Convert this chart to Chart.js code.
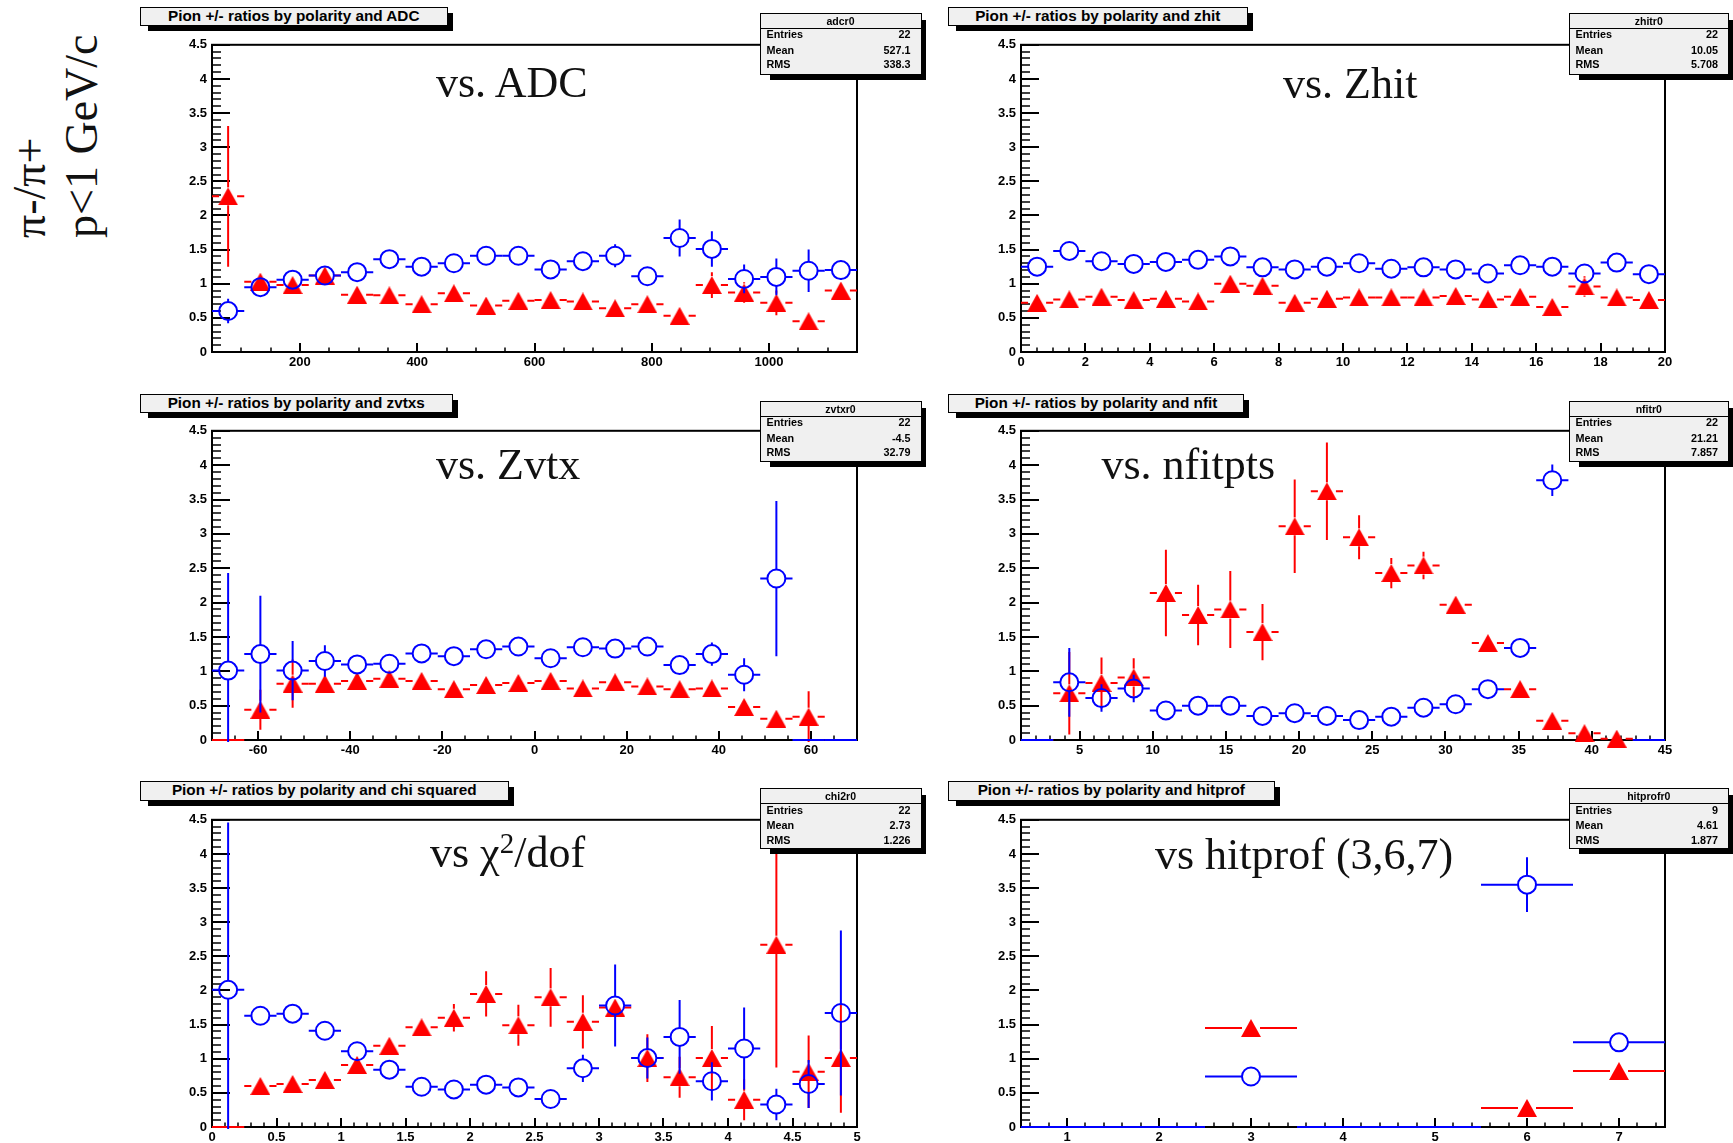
<!DOCTYPE html>
<html>
<head>
<meta charset="utf-8">
<script src="https://cdn.jsdelivr.net/npm/chart.js@4.4.0/dist/chart.umd.min.js"></script>
<style>
  body { margin: 0; background: #fff; }
  #page { position: relative; width: 1733px; height: 1143px; overflow: hidden; font-family: "Liberation Sans", Arial, sans-serif; }
  #page canvas { position: absolute; }
  .shadow { position: absolute; background: #000; }
  .titlebox { position: absolute; box-sizing: border-box; background: #f0f0f0; border: 1.5px solid #000;
              font-weight: bold; font-size: 15.3px; text-align: center; white-space: nowrap; color: #000; }
  .stats { position: absolute; box-sizing: border-box; background: #f0f0f0; border: 1.5px solid #000;
           font-weight: bold; font-size: 10.8px; color: #000; }
  .stats .head { position: absolute; left: 0; right: 0; top: 0; height: 14px; line-height: 14px;
                 border-bottom: 1.5px solid #000; text-align: center; font-size: 10.5px; }
  .stats .row { position: absolute; left: 6px; right: 10px; height: 13px; line-height: 13px; }
  .stats .row .v { float: right; }
  .vs { position: absolute; font-family: "Liberation Serif", "Times New Roman", serif; font-size: 44px;
        line-height: 44px; color: #111; white-space: nowrap; }
  .vs .sup { font-size: 29px; position: relative; top: -14px; }
  .ylab { position: absolute; font-family: "Liberation Serif", "Times New Roman", serif; font-size: 46px;
          line-height: 46px; white-space: nowrap; color: #111; transform-origin: 0 0; transform: rotate(-90deg); }
</style>
</head>
<body>
<div id="page">
  <div class="ylab" style="left:7px; top:238px">π-/π+</div>
  <div class="ylab" style="left:59px; top:238px">p&lt;1 GeV/c</div>
</div>
<script>
// y axis is the same on every pad
const yTicks = [0, 0.5, 1, 1.5, 2, 2.5, 3, 3.5, 4, 4.5];

// ---- ADC ----
const adcX = [77.5, 132.5, 187.5, 242.5, 297.5, 352.5, 407.5, 462.5, 517.5, 572.5, 627.5, 682.5, 737.5, 792.5, 847.5, 902.5, 957.5, 1012.5, 1067.5, 1122.5];
const adcRed = [2.28, 1.03, 0.98, 1.12, 0.84, 0.83, 0.70, 0.86, 0.68, 0.75, 0.76, 0.74, 0.64, 0.70, 0.53, 0.98, 0.87, 0.72, 0.45, 0.90];
const adcRedErr = [1.03, 0.08, 0.08, 0.08, 0.08, 0.08, 0.08, 0.08, 0.08, 0.08, 0.08, 0.08, 0.08, 0.09, 0.10, 0.19, 0.15, 0.18, 0.12, 0.10];
const adcBlue = [0.60, 0.95, 1.06, 1.12, 1.17, 1.36, 1.25, 1.30, 1.41, 1.41, 1.21, 1.33, 1.41, 1.11, 1.67, 1.51, 1.07, 1.10, 1.19, 1.20];
const adcBlueErr = [0.18, 0.08, 0.08, 0.08, 0.08, 0.09, 0.09, 0.10, 0.10, 0.10, 0.10, 0.11, 0.17, 0.12, 0.27, 0.26, 0.21, 0.27, 0.31, 0.14];
const adcTicks = [200, 400, 600, 800, 1000];

// ---- Zhit ----
const zhitX = [0.5, 1.5, 2.5, 3.5, 4.5, 5.5, 6.5, 7.5, 8.5, 9.5, 10.5, 11.5, 12.5, 13.5, 14.5, 15.5, 16.5, 17.5, 18.5, 19.5];
const zhitRed = [0.72, 0.77, 0.81, 0.76, 0.78, 0.74, 1.00, 0.97, 0.72, 0.78, 0.80, 0.80, 0.80, 0.82, 0.77, 0.81, 0.66, 0.96, 0.80, 0.76];
const zhitRedErr = [0.07, 0.07, 0.07, 0.07, 0.07, 0.07, 0.08, 0.08, 0.07, 0.07, 0.07, 0.07, 0.07, 0.07, 0.07, 0.07, 0.07, 0.15, 0.07, 0.07];
const zhitBlue = [1.25, 1.48, 1.33, 1.29, 1.32, 1.35, 1.40, 1.24, 1.21, 1.25, 1.30, 1.22, 1.24, 1.21, 1.15, 1.27, 1.25, 1.15, 1.31, 1.14];
const zhitBlueErr = [0.08, 0.08, 0.08, 0.08, 0.08, 0.08, 0.08, 0.08, 0.08, 0.08, 0.08, 0.08, 0.08, 0.08, 0.08, 0.08, 0.08, 0.08, 0.08, 0.08];
const zhitTicks = [0, 2, 4, 6, 8, 10, 12, 14, 16, 18, 20];

// ---- Zvtx ----
const zvtxX = [-66.5, -59.5, -52.5, -45.5, -38.5, -31.5, -24.5, -17.5, -10.5, -3.5, 3.5, 10.5, 17.5, 24.5, 31.5, 38.5, 45.5, 52.5, 59.5, 66.5];
const zvtxRed = [0, 0.44, 0.82, 0.82, 0.86, 0.89, 0.86, 0.74, 0.80, 0.83, 0.86, 0.75, 0.84, 0.78, 0.74, 0.75, 0.48, 0.31, 0.34, 0];
const zvtxRedErr = [0, 0.29, 0.35, 0.10, 0.10, 0.08, 0.08, 0.08, 0.08, 0.08, 0.08, 0.08, 0.08, 0.08, 0.08, 0.08, 0.10, 0.13, 0.37, 0];
const zvtxBlue = [1.01, 1.25, 1.01, 1.15, 1.10, 1.11, 1.26, 1.22, 1.32, 1.36, 1.19, 1.35, 1.33, 1.36, 1.09, 1.25, 0.95, 2.35, 0, 0];
const zvtxBlueErr = [1.42, 0.85, 0.43, 0.23, 0.12, 0.10, 0.10, 0.10, 0.10, 0.10, 0.10, 0.10, 0.10, 0.10, 0.10, 0.17, 0.24, 1.13, 0, 0];
const zvtxTicks = [-60, -40, -20, 0, 20, 40, 60];

// ---- nfit ----
const nfitX = [2.1, 4.3, 6.5, 8.7, 10.9, 13.1, 15.3, 17.5, 19.7, 21.9, 24.1, 26.3, 28.5, 30.7, 32.9, 35.1, 37.3, 39.5, 41.7, 43.9];
const nfitRed = [0, 0.68, 0.83, 0.91, 2.14, 1.82, 1.90, 1.57, 3.11, 3.62, 2.95, 2.43, 2.54, 1.97, 1.41, 0.74, 0.28, 0.10, 0.02, 0];
const nfitRedErr = [0, 0.60, 0.37, 0.28, 0.63, 0.44, 0.56, 0.41, 0.68, 0.71, 0.32, 0.22, 0.20, 0.08, 0.08, 0.08, 0.08, 0.08, 0.08, 0];
const nfitBlue = [0, 0.84, 0.61, 0.75, 0.43, 0.50, 0.50, 0.35, 0.39, 0.35, 0.29, 0.34, 0.47, 0.52, 0.74, 1.34, 3.78, null, null, 0];
const nfitBlueErr = [0, 0.50, 0.20, 0.20, 0.08, 0.08, 0.08, 0.08, 0.08, 0.08, 0.08, 0.08, 0.08, 0.08, 0.10, 0.10, 0.23, null, null, 0];
const nfitTicks = [5, 10, 15, 20, 25, 30, 35, 40, 45];

// ---- chi2/dof ----
const chi2X = [0.125, 0.375, 0.625, 0.875, 1.125, 1.375, 1.625, 1.875, 2.125, 2.375, 2.625, 2.875, 3.125, 3.375, 3.625, 3.875, 4.125, 4.375, 4.625, 4.875];
const chi2Red = [0, 0.60, 0.63, 0.69, 0.91, 1.19, 1.46, 1.60, 1.95, 1.49, 1.90, 1.54, 1.75, 1.01, 0.73, 1.01, 0.40, 2.67, 0.81, 1.01];
const chi2RedErr = [0, 0.08, 0.08, 0.08, 0.10, 0.10, 0.10, 0.20, 0.33, 0.30, 0.43, 0.39, 0.12, 0.35, 0.30, 0.47, 0.30, 1.80, 0.53, 0.80];
const chi2Blue = [2.01, 1.63, 1.66, 1.41, 1.11, 0.84, 0.59, 0.55, 0.62, 0.58, 0.41, 0.86, 1.78, 1.01, 1.32, 0.67, 1.15, 0.33, 0.63, 1.67];
const chi2BlueErr = [2.45, 0.10, 0.08, 0.08, 0.08, 0.08, 0.08, 0.08, 0.08, 0.08, 0.08, 0.20, 0.60, 0.30, 0.54, 0.28, 0.60, 0.23, 0.35, 1.21];
const chi2Ticks = [0, 0.5, 1, 1.5, 2, 2.5, 3, 3.5, 4, 4.5, 5];

// ---- hitprof ----
const hitX = [1, 2, 3, 4, 5, 6, 7];
const hitRed = [0, 0, 1.45, 0, 0, 0.28, 0.82];
const hitRedErr = [0, 0, 0.07, 0, 0, 0.07, 0.07];
const hitBlue = [0, 0, 0.74, 0, 0, 3.55, 1.24];
const hitBlueErr = [0, 0, 0.07, 0, 0, 0.40, 0.07];
const hitTicks = [1, 2, 3, 4, 5, 6, 7];

const panels = [
  { plot: [212, 44, 857, 352], xmin: 50, xmax: 1150, bin: 55, minor: 50, major: 200,
    x: adcX, red: adcRed, redErr: adcRedErr, blue: adcBlue, blueErr: adcBlueErr, ticks: adcTicks,
    title: 'Pion +/- ratios by polarity and ADC', tbox: [139.5, 6.7, 308.5, 19.3],
    stats: ['adcr0', '22', '527.1', '338.3'], sbox: [759.5, 12.7, 162, 62.3],
    label: 'vs. ADC', lpos: [436, 61] },
  { plot: [1021, 44, 1665, 352], xmin: 0, xmax: 20, bin: 1, minor: 0.5, major: 2,
    x: zhitX, red: zhitRed, redErr: zhitRedErr, blue: zhitBlue, blueErr: zhitBlueErr, ticks: zhitTicks,
    title: 'Pion +/- ratios by polarity and zhit', tbox: [948, 6.7, 299.5, 19.3],
    stats: ['zhitr0', '22', '10.05', '5.708'], sbox: [1568.5, 12.7, 160.5, 62.3],
    label: 'vs. Zhit', lpos: [1283, 61.5] },
  { plot: [212, 430, 857, 740], xmin: -70, xmax: 70, bin: 7, minor: 5, major: 20,
    x: zvtxX, red: zvtxRed, redErr: zvtxRedErr, blue: zvtxBlue, blueErr: zvtxBlueErr, ticks: zvtxTicks,
    title: 'Pion +/- ratios by polarity and zvtxs', tbox: [139.5, 393.5, 313.5, 19],
    stats: ['zvtxr0', '22', '-4.5', '32.79'], sbox: [759.5, 400.7, 162, 61],
    label: 'vs. Zvtx', lpos: [436, 443] },
  { plot: [1021, 430, 1665, 740], xmin: 1, xmax: 45, bin: 2.2, minor: 1, major: 5,
    x: nfitX, red: nfitRed, redErr: nfitRedErr, blue: nfitBlue, blueErr: nfitBlueErr, ticks: nfitTicks,
    title: 'Pion +/- ratios by polarity and nfit', tbox: [948, 393.5, 296, 19],
    stats: ['nfitr0', '22', '21.21', '7.857'], sbox: [1568.5, 400.7, 160.5, 61],
    label: 'vs. nfitpts', lpos: [1101.5, 443] },
  { plot: [212, 819, 857, 1127], xmin: 0, xmax: 5, bin: 0.25, minor: 0.1, major: 0.5,
    x: chi2X, red: chi2Red, redErr: chi2RedErr, blue: chi2Blue, blueErr: chi2BlueErr, ticks: chi2Ticks,
    title: 'Pion +/- ratios by polarity and chi squared', tbox: [139.5, 781, 369.5, 19.5],
    stats: ['chi2r0', '22', '2.73', '1.226'], sbox: [759.5, 788.3, 162, 61],
    label: 'vs χ<span class="sup">2</span>/dof', lpos: [430, 830.5] },
  { plot: [1021, 819, 1665, 1127], xmin: 0.5, xmax: 7.5, bin: 1, minor: 0.2, major: 1,
    x: hitX, red: hitRed, redErr: hitRedErr, blue: hitBlue, blueErr: hitBlueErr, ticks: hitTicks,
    title: 'Pion +/- ratios by polarity and hitprof', tbox: [948, 781, 326.6, 19.5],
    stats: ['hitprofr0', '9', '4.61', '1.877'], sbox: [1568.5, 788.3, 160.5, 61],
    label: 'vs hitprof (3,6,7)', lpos: [1155, 833] }
];

const PAD_L = 60, PAD_T = 12, PAD_R = 12, PAD_B = 30;

// filled triangle marker, centred on its bounding box
const tri = document.createElement('canvas');
tri.width = 20; tri.height = 18;
(function () {
  const c = tri.getContext('2d');
  c.fillStyle = '#ff0000';
  c.beginPath();
  c.moveTo(10, 0); c.lineTo(20, 18); c.lineTo(0, 18);
  c.closePath();
  c.fill();
})();

// frame box with inward ticks on the left and bottom axes
const rootFrame = {
  id: 'rootFrame',
  beforeDatasetsDraw(chart) {
    const { ctx, chartArea: a, scales } = chart;
    const p = chart.config.options.plugins.rootFrame;
    ctx.save();
    ctx.strokeStyle = '#000';
    ctx.lineWidth = 2;
    ctx.strokeRect(a.left, a.top, a.right - a.left, a.bottom - a.top);

    // y ticks every 0.1, long ones every 0.5
    for (let i = 0; i <= 45; i++) {
      const py = Math.round(scales.y.getPixelForValue(i / 10));
      const len = i % 5 === 0 ? 18 : 9;
      ctx.lineWidth = i % 5 === 0 ? 2 : 1.5;
      ctx.beginPath();
      ctx.moveTo(a.left, py);
      ctx.lineTo(a.left + len, py);
      ctx.stroke();
    }

    // x ticks
    const first = Math.ceil(p.xmin / p.minor - 1e-6);
    const last = Math.floor(p.xmax / p.minor + 1e-6);
    for (let k = first; k <= last; k++) {
      const v = k * p.minor;
      const r = v / p.major;
      const isMajor = Math.abs(r - Math.round(r)) < 1e-6;
      const px = Math.round(scales.x.getPixelForValue(v));
      ctx.lineWidth = isMajor ? 2 : 1.5;
      ctx.beginPath();
      ctx.moveTo(px, a.bottom);
      ctx.lineTo(px, a.bottom - (isMajor ? 9 : 4.5));
      ctx.stroke();
    }
    ctx.restore();
  }
};

// bin-width and error bars, with a gap left for the marker
const errBars = {
  id: 'errBars',
  beforeDatasetDraw(chart, args) {
    const ds = chart.data.datasets[args.index];
    const { ctx, chartArea: a, scales: { x: xs, y: ys } } = chart;
    const gap = 9;
    ctx.save();
    ctx.beginPath();
    ctx.rect(a.left - 2, a.top, a.right - a.left + 4, a.bottom - a.top + 2);
    ctx.clip();
    ctx.strokeStyle = ds.lineColor;
    ctx.lineWidth = 2;
    ds.data.forEach(d => {
      const px = xs.getPixelForValue(d.x);
      const py = ys.getPixelForValue(d.y);
      const xl = xs.getPixelForValue(d.x - ds.binWidth / 2);
      const xr = xs.getPixelForValue(d.x + ds.binWidth / 2);
      ctx.beginPath();
      if (d.y === 0 && !d.e) {
        ctx.moveTo(xl, py); ctx.lineTo(xr, py);
      } else {
        if (px - gap > xl) {
          ctx.moveTo(xl, py); ctx.lineTo(px - gap, py);
          ctx.moveTo(px + gap, py); ctx.lineTo(xr, py);
        }
        const ep = Math.abs(ys.getPixelForValue(d.y + d.e) - py);
        if (ep > gap) {
          ctx.moveTo(px, py - ep); ctx.lineTo(px, py - gap);
          ctx.moveTo(px, py + gap); ctx.lineTo(px, py + ep);
        }
      }
      ctx.stroke();
    });
    ctx.restore();
  }
};

function points(xs, ys, es) {
  const out = [];
  xs.forEach((x, i) => {
    if (ys[i] !== null) out.push({ x: x, y: ys[i], e: es[i] });
  });
  return out;
}

const page = document.getElementById('page');

function addBox(cls, b, sh) {
  const s = document.createElement('div');
  s.className = 'shadow';
  s.style.left = (b[0] + sh[0]) + 'px';
  s.style.top = (b[1] + sh[1]) + 'px';
  s.style.width = (b[2] - sh[0] + sh[2]) + 'px';
  s.style.height = (b[3] - sh[1] + sh[3]) + 'px';
  page.appendChild(s);
  const d = document.createElement('div');
  d.className = cls;
  d.style.left = b[0] + 'px';
  d.style.top = b[1] + 'px';
  d.style.width = b[2] + 'px';
  d.style.height = b[3] + 'px';
  page.appendChild(d);
  return d;
}

panels.forEach(p => {
  const [l, t, r, b] = p.plot;
  const cw = (r - l) + PAD_L + PAD_R;
  const ch = (b - t) + PAD_T + PAD_B;
  const cv = document.createElement('canvas');
  cv.width = cw; cv.height = ch;
  cv.style.left = (l - PAD_L) + 'px';
  cv.style.top = (t - PAD_T) + 'px';
  cv.style.width = cw + 'px';
  cv.style.height = ch + 'px';
  page.appendChild(cv);

  const tickFont = { family: '"Liberation Sans", Arial, sans-serif', weight: 'bold', size: 13 };

  new Chart(cv, {
    type: 'scatter',
    data: {
      datasets: [
        {
          data: points(p.x, p.blue, p.blueErr),
          binWidth: p.bin, lineColor: '#0000ff',
          pointStyle: 'circle',
          radius: c => (c.raw && c.raw.y === 0) ? 0 : 9,
          borderColor: '#0000ff', backgroundColor: 'rgba(0,0,0,0)', borderWidth: 2,
          clip: false
        },
        {
          data: points(p.x, p.red, p.redErr),
          binWidth: p.bin, lineColor: '#ff0000',
          pointStyle: tri,
          radius: c => (c.raw && c.raw.y === 0) ? 0 : 9,
          borderColor: '#ff0000', backgroundColor: '#ff0000',
          clip: false
        }
      ]
    },
    options: {
      responsive: false,
      animation: false,
      events: [],
      layout: { padding: { left: 0, top: PAD_T, right: PAD_R, bottom: 0 } },
      plugins: {
        legend: { display: false },
        tooltip: { enabled: false },
        rootFrame: { xmin: p.xmin, xmax: p.xmax, minor: p.minor, major: p.major }
      },
      scales: {
        x: {
          type: 'linear', min: p.xmin, max: p.xmax,
          grid: { display: false, drawTicks: false }, border: { display: false },
          afterFit: s => { s.height = PAD_B; },
          afterBuildTicks: s => { s.ticks = p.ticks.map(v => ({ value: v })); },
          ticks: { padding: 3, color: '#000', font: tickFont, maxRotation: 0, autoSkip: false,
                   callback: v => String(v) }
        },
        y: {
          type: 'linear', min: 0, max: 4.5,
          grid: { display: false, drawTicks: false }, border: { display: false },
          afterFit: s => { s.width = PAD_L; },
          afterBuildTicks: s => { s.ticks = yTicks.map(v => ({ value: v })); },
          ticks: { padding: 5, color: '#000', font: tickFont, autoSkip: false,
                   callback: v => String(v) }
        }
      }
    },
    plugins: [rootFrame, errBars]
  });

  const lab = document.createElement('div');
  lab.className = 'vs';
  lab.style.left = p.lpos[0] + 'px';
  lab.style.top = p.lpos[1] + 'px';
  lab.innerHTML = p.label;
  page.appendChild(lab);
});

// title and statistics boxes go on top of the pads
panels.forEach(p => {
  const tb = addBox('titlebox', p.tbox, [8, 6, 5, 5.5]);
  tb.style.lineHeight = (p.tbox[3] - 3) + 'px';
  tb.textContent = p.title;

  const sb = addBox('stats', p.sbox, [10, 7, 4, 5]);
  const head = document.createElement('div');
  head.className = 'head';
  head.textContent = p.stats[0];
  sb.appendChild(head);
  const names = ['Entries', 'Mean', 'RMS'];
  const rowY = [14.5, 30, 44.5];
  names.forEach((n, i) => {
    const row = document.createElement('div');
    row.className = 'row';
    row.style.top = rowY[i] + 'px';
    row.innerHTML = n + '<span class="v">' + p.stats[i + 1] + '</span>';
    sb.appendChild(row);
  });
});
</script>
</body>
</html>
